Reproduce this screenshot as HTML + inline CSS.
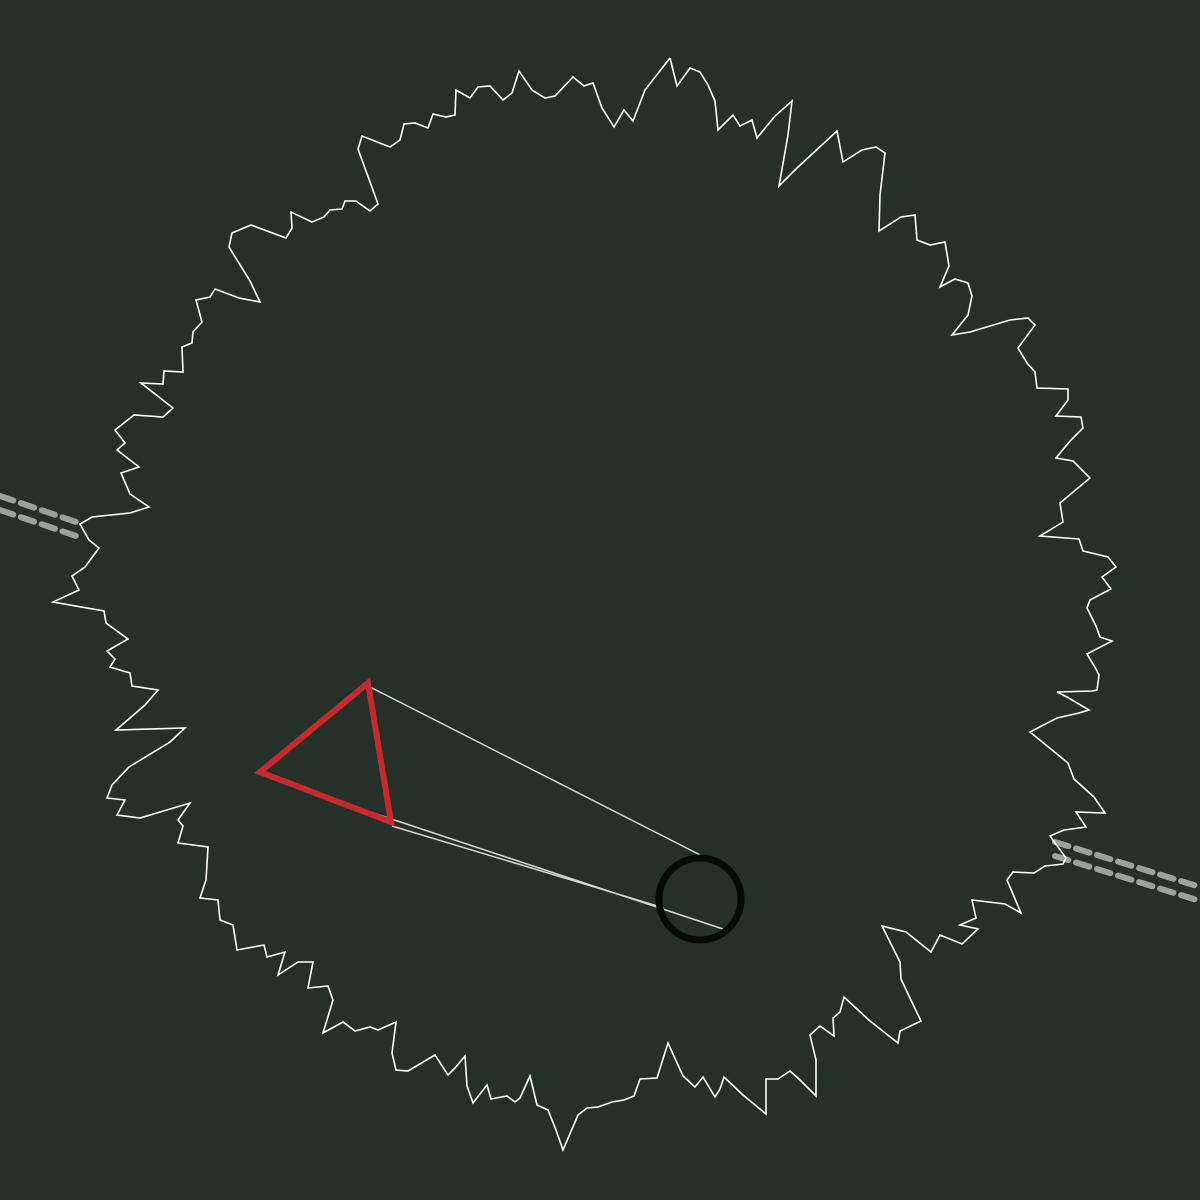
<!DOCTYPE html>
<html><head><meta charset="utf-8"><style>
html,body{margin:0;padding:0;background:#253028;}
svg{display:block}
</style></head><body>
<svg id="chart" width="1200" height="1200" viewBox="0 0 1200 1200">
<rect width="1200" height="1200" fill="#253028"/>
</svg>
<script>
const outlineX=[670,677,690,700,708,715,718,733,740,752,757,775,792,788,779,797,837,843,862,876,885,880,879,901,915,917,930,945,949,940,955,968,972,968,952,970,1010,1028,1035,1018,1027,1035,1037,1068,1068,1056,1081,1083,1070,1056,1073,1090,1060,1063,1040,1079,1083,1108,1116,1102,1111,1090,1087,1096,1100,1112,1087,1096,1099,1097,1092,1057,1067,1089,1079,1057,1030,1068,1074,1094,1105,1076,1086,1064,1050,1066,1063,1045,1034,1013,1007,1021,1005,972,976,960,978,962,940,931,906,882,900,901,909,921,900,898,870,844,840,833,834,820,810,816,816,798,790,778,766,766,743,724,720,715,703,695,683,668,657,640,634,624,612,598,587,578,563,556,548,537,530,520,515,507,491,487,473,467,465,455,448,435,408,396,392,396,378,370,355,343,323,333,328,308,313,298,278,285,267,264,237,233,220,218,200,206,208,178,183,178,190,140,117,125,107,112,129,170,185,116,145,158,132,130,110,115,107,128,106,104,53,79,72,85,99,89,80,92,130,149,130,121,139,117,125,115,134,163,173,141,163,164,183,182,192,193,202,196,210,215,239,260,250,229,232,251,286,292,291,312,324,330,342,345,356,370,378,358,362,390,400,404,415,428,433,446,455,456,470,478,490,503,512,519,532,545,555,573,584,593,602,614,624,633,645,670];
const outlineY=[58,86,68,72,85,101,130,115,126,120,138,116,101,135,186,168,131,162,150,147,153,195,231,217,215,240,245,242,266,287,279,283,296,315,335,332,320,318,325,348,363,372,388,389,400,416,417,428,441,458,461,478,503,522,536,539,551,557,567,577,589,600,608,626,637,641,654,669,675,690,691,692,697,710,713,718,732,763,779,797,813,812,827,830,836,858,864,866,873,872,880,913,904,900,918,925,929,944,935,952,932,926,962,979,996,1021,1031,1043,1021,997,1012,1018,1036,1026,1035,1060,1096,1078,1071,1079,1079,1114,1095,1077,1089,1097,1077,1087,1076,1043,1078,1079,1096,1100,1102,1107,1108,1115,1150,1130,1110,1105,1076,1098,1102,1096,1099,1085,1103,1086,1056,1068,1075,1055,1071,1070,1053,1022,1030,1027,1031,1022,1033,1000,986,988,962,962,975,952,957,945,950,925,920,900,898,880,847,843,826,820,803,818,815,800,798,785,767,742,728,730,705,690,686,673,667,659,651,639,623,611,602,590,576,567,548,540,524,517,513,507,494,473,467,450,443,430,415,417,408,383,384,371,372,347,343,332,322,300,297,289,298,302,281,247,233,225,238,228,212,222,217,210,209,201,201,211,204,149,136,147,140,124,123,128,114,117,115,90,98,87,86,100,93,71,90,98,96,77,86,83,108,127,110,121,90,58];
const triangleX=[368,260,391];
const triangleY=[683,772,822];
const spokeX1=[370,340,392];
const spokeY1=[687,802,826];
const spokeX2=[714,726,664];
const spokeY2=[862,930,908];
const dashX1=[0,0,1055,1055];
const dashY1=[496,510,842,856];
const dashX2=[82,82,1200,1200];
const dashY2=[524,538,887,901];
const hubX=[700], hubY=[899], hubR=[41];

const NS='http://www.w3.org/2000/svg';
const svg=document.getElementById('chart');
function mk(t,a){const e=document.createElementNS(NS,t);for(const k in a)e.setAttribute(k,a[k]);svg.appendChild(e);return e;}

for(let i=0;i<dashX1.length;i++){
  const l=mk('line',{x1:dashX1[i],y1:dashY1[i],x2:dashX2[i],y2:dashY2[i],stroke:'#9aa39b','stroke-width':6,'stroke-dasharray':'14 8','stroke-linecap':'round'});
  
  
}

let pts=outlineX.map((x,i)=>x+','+outlineY[i]).join(' ');
const poly=mk('polyline',{points:pts,fill:'none',stroke:'#ffffff','stroke-width':1.6,'stroke-linejoin':'miter'});



for(let i=0;i<spokeX1.length;i++){
  const l=mk('line',{x1:spokeX1[i],y1:spokeY1[i],x2:spokeX2[i],y2:spokeY2[i],stroke:'#d4d8d4','stroke-width':1.5});
  
  
}

const tri=mk('polygon',{points:triangleX.map((x,i)=>x+','+triangleY[i]).join(' '),fill:'none',stroke:'#c62a2c','stroke-width':6,'stroke-linejoin':'miter'});



const c=mk('circle',{cx:hubX[0],cy:hubY[0],r:hubR[0],fill:'none',stroke:'#080a08','stroke-width':7});


</script>
</body></html>
